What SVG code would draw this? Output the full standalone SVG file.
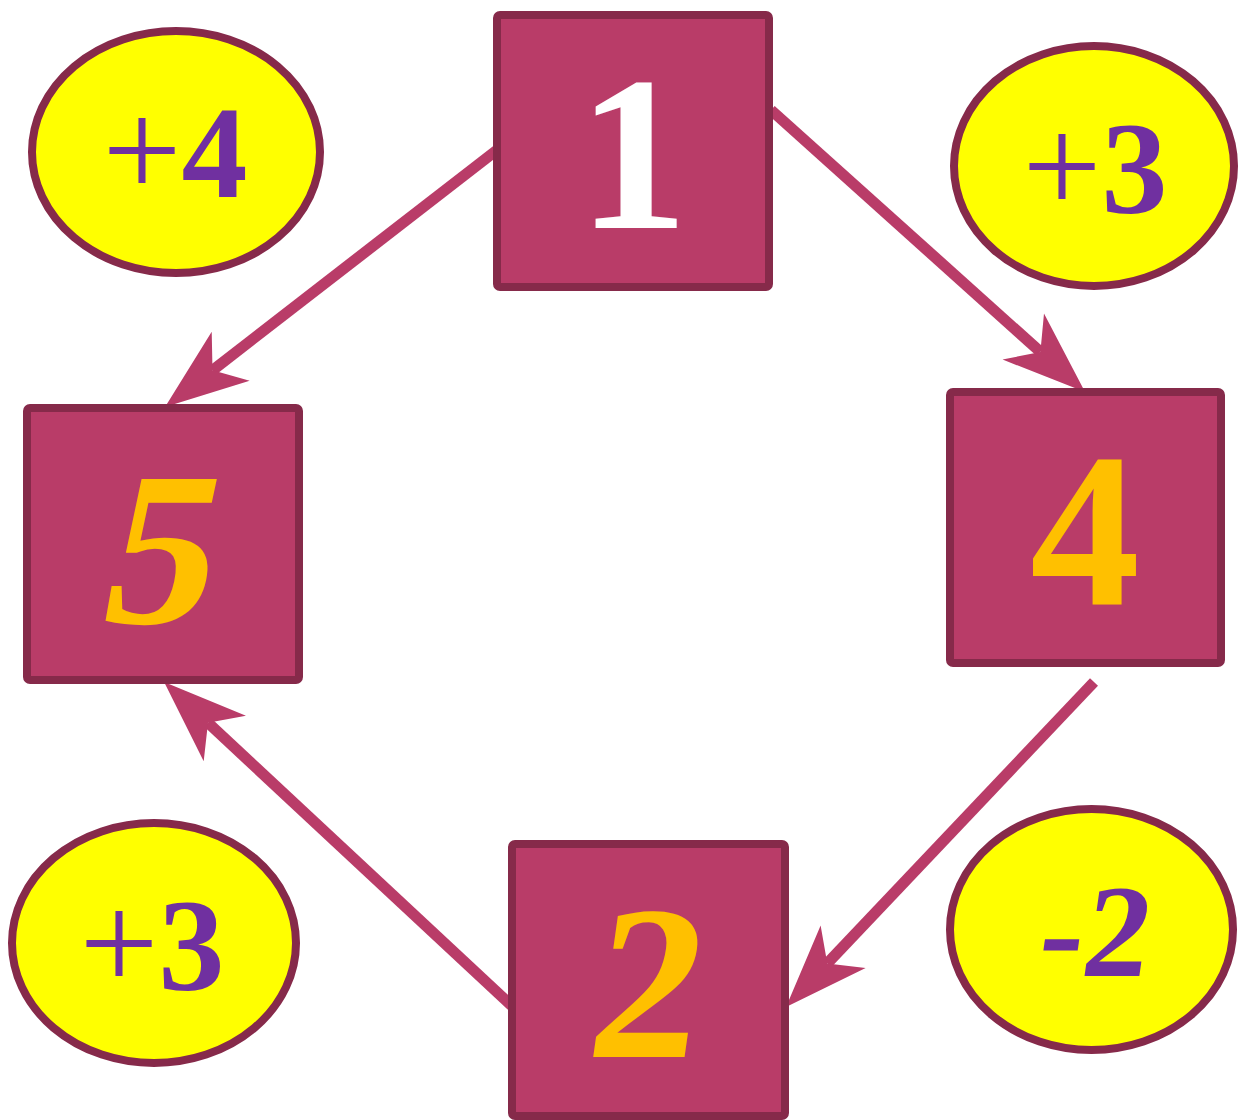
<svg xmlns="http://www.w3.org/2000/svg" width="1240" height="1120" viewBox="0 0 1240 1120">
<style>
.box{fill:#B93C68;stroke:#862A4A;stroke-width:8}
.oval{fill:#FFFF00;stroke:#862A4A;stroke-width:8}
.big{font-family:"Liberation Serif","Times New Roman",serif;font-weight:bold;font-size:220px;text-anchor:middle}
.lab{font-family:"Liberation Serif","Times New Roman",serif;font-weight:bold;font-size:132px;text-anchor:middle;fill:#7030A0}
.plus{font-weight:normal;font-size:140px}
.conn{stroke:#B93C68;stroke-width:11;fill:none}
</style>
<defs>
<marker id="arr" markerUnits="userSpaceOnUse" orient="auto" refX="0" refY="0" markerWidth="10" markerHeight="10" overflow="visible">
<path d="M60,0 L-23,-31 L0,0 L-23,31 Z" fill="#B93C68"/>
</marker>
</defs>
<rect width="1240" height="1120" fill="#FFFFFF"/>
<g id="connectors">
<line class="conn" x1="497" y1="150" x2="212.5" y2="370.3" marker-end="url(#arr)"/>
<line class="conn" x1="771" y1="110" x2="1040.4" y2="351.9" marker-end="url(#arr)"/>
<line class="conn" x1="1094" y1="682" x2="827.3" y2="963.4" marker-end="url(#arr)"/>
<line class="conn" x1="513" y1="1007" x2="208" y2="722.8" marker-end="url(#arr)"/>
</g>
<g id="node1">
<rect class="box" x="497" y="15" width="272" height="272" rx="3"/>
<text class="big" x="633" y="228" fill="#FFFFFF">1</text>
</g>
<g id="node5">
<rect class="box" x="27" y="408" width="272" height="272" rx="3"/>
<text class="big" transform="translate(150,623) skewX(-12)" fill="#FFC000">5</text>
</g>
<g id="node4">
<rect class="box" x="950" y="392" width="271" height="271" rx="3"/>
<text class="big" x="1085" y="605" fill="#FFC000">4</text>
</g>
<g id="node2">
<rect class="box" x="512" y="844" width="273" height="272" rx="3"/>
<text class="big" transform="translate(639,1057) skewX(-8)" fill="#FFC000">2</text>
</g>
<g id="oval-p4">
<ellipse class="oval" cx="176" cy="152" rx="144" ry="121"/>
<text class="lab" x="175" y="197"><tspan class="plus">+</tspan>4</text>
</g>
<g id="oval-p3-top">
<ellipse class="oval" cx="1094" cy="166" rx="140" ry="120"/>
<text class="lab" x="1095" y="213"><tspan class="plus">+</tspan>3</text>
</g>
<g id="oval-p3-bottom">
<ellipse class="oval" cx="154" cy="943" rx="142" ry="120"/>
<text class="lab" x="152" y="990"><tspan class="plus">+</tspan>3</text>
</g>
<g id="oval-m2">
<ellipse class="oval" cx="1091.5" cy="929.5" rx="141.5" ry="120.5"/>
<text class="lab" transform="translate(1090,976) skewX(-8)">-2</text>
</g>
</svg>
